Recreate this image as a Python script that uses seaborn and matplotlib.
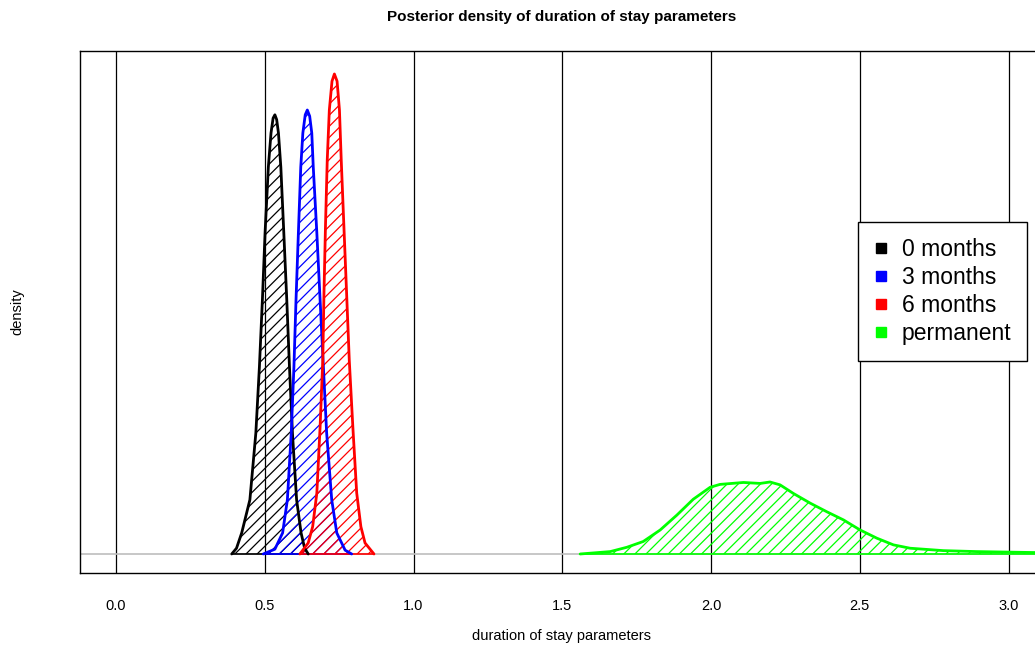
import pandas as pd
import seaborn as sns
import matplotlib.pyplot as plt
from matplotlib.lines import Line2D

# posterior density curves (x = parameter value, d = density)
x_0m = [0.389, 0.405, 0.4225, 0.450, 0.470, 0.482, 0.492, 0.501, 0.512, 0.521, 0.528, 0.534,
        0.540, 0.546, 0.554, 0.564, 0.574, 0.583, 0.593, 0.607, 0.622, 0.634, 0.646]
d_0m = [0.0, 0.12, 0.44, 1.13, 2.52, 3.90, 5.29, 6.69, 8.06, 8.77, 9.08, 9.15,
        9.05, 8.77, 8.06, 6.69, 5.29, 3.90, 2.52, 1.13, 0.44, 0.12, 0.0]

x_3m = [0.495, 0.534, 0.560, 0.576, 0.589, 0.598, 0.605, 0.613, 0.621, 0.628, 0.636, 0.643,
        0.651, 0.658, 0.663, 0.675, 0.686, 0.697, 0.708, 0.725, 0.742, 0.770, 0.792]
d_3m = [0.0, 0.10, 0.44, 1.13, 2.52, 3.90, 5.29, 6.69, 8.06, 8.77, 9.15, 9.25,
        9.12, 8.77, 8.06, 6.69, 5.29, 3.90, 2.52, 1.13, 0.44, 0.08, 0.0]

x_6m = [0.618, 0.646, 0.661, 0.675, 0.686, 0.695, 0.699, 0.704, 0.710, 0.717, 0.726, 0.734,
        0.743, 0.751, 0.757, 0.766, 0.775, 0.784, 0.796, 0.809, 0.823, 0.837, 0.867]
d_6m = [0.0, 0.23, 0.57, 1.27, 2.65, 4.04, 5.44, 6.82, 8.21, 9.25, 9.85, 10.0,
        9.85, 9.25, 8.21, 6.82, 5.44, 4.04, 2.65, 1.27, 0.57, 0.23, 0.0]

x_perm = [1.560, 1.661, 1.717, 1.772, 1.829, 1.885, 1.940, 1.997, 2.030, 2.109, 2.165, 2.198,
          2.232, 2.277, 2.333, 2.389, 2.445, 2.501, 2.557, 2.613, 2.669, 2.781, 2.893, 3.089, 3.200]
d_perm = [0.0, 0.05, 0.14, 0.26, 0.50, 0.81, 1.14, 1.39, 1.45, 1.49, 1.47, 1.50,
          1.44, 1.26, 1.06, 0.88, 0.71, 0.50, 0.33, 0.19, 0.12, 0.07, 0.05, 0.03, 0.02]

labels = ['0 months', '3 months', '6 months', 'permanent']
colors = ['black', 'blue', 'red', '#00ff00']
grid_x = [0.0, 0.5, 1.0, 1.5, 2.0, 2.5, 3.0]

curves = [(x_0m, d_0m), (x_3m, d_3m), (x_6m, d_6m), (x_perm, d_perm)]

sns.set_theme(style='white')
plt.rcParams['font.family'] = ['Liberation Sans', 'DejaVu Sans']
plt.rcParams['text.color'] = 'black'
plt.rcParams['xtick.color'] = 'black'
plt.rcParams['hatch.linewidth'] = 0.9

fig = plt.figure(figsize=(10.35, 6.51), dpi=100)
ax = fig.add_axes([80 / 1035, 78 / 651, 964 / 1035, 522 / 651])

# vertical reference lines and zero line
for gx in grid_x:
    ax.axvline(gx, color='black', lw=0.9, zorder=1)
ax.axhline(0, color='#bebebe', lw=1.2, zorder=1)

for (xs, ds), lab, col in zip(curves, labels, colors):
    df = pd.DataFrame({'x': xs, 'density': ds})
    ax.fill_between(df['x'], 0, df['density'], facecolor='none', edgecolor=col,
                    hatch='///', linewidth=0, zorder=2)
    ax.plot([xs[0], xs[-1]], [0, 0], color=col, lw=1.2, zorder=2)
    sns.lineplot(data=df, x='x', y='density', color=col, lw=2, ax=ax, zorder=3,
                 sort=False, estimator=None)

ax.set_xlim(-0.121, 3.119)
ax.set_ylim(-0.396, 10.479)
ax.set_xticks(grid_x)
ax.set_xticklabels(['0.0', '0.5', '1.0', '1.5', '2.0', '2.5', '3.0'])
ax.set_yticks([])
ax.tick_params(axis='x', length=0, pad=19, labelsize=10.5, labelcolor='black')
ax.set_xlabel('')
ax.set_ylabel('')
for sp in ax.spines.values():
    sp.set_color('black')
    sp.set_linewidth(1.0)

fig.text(562 / 1035, 1 - 17 / 651, 'Posterior density of duration of stay parameters',
         fontsize=11, fontweight='bold', ha='center', va='center')
fig.text(562 / 1035, 1 - 636 / 651, 'duration of stay parameters',
         fontsize=10.5, ha='center', va='center')
fig.text(17 / 1035, 1 - 312 / 651, 'density', fontsize=10.5, rotation=90,
         ha='center', va='center')

handles = [Line2D([], [], marker='s', linestyle='none', color=c, markersize=7.5) for c in colors]
leg = ax.legend(handles, labels, loc='upper left', bbox_to_anchor=(858 / 1035, 429 / 651),
                bbox_transform=fig.transFigure, fontsize=16.5, frameon=True, fancybox=False,
                edgecolor='black', framealpha=1, handlelength=0.6, handletextpad=0.6,
                labelspacing=0.22, borderpad=0.7, borderaxespad=0)
leg.get_frame().set_linewidth(1.0)
for t in leg.get_texts():
    t.set_color('black')

plt.savefig('out.png', dpi=100)
plt.close()
